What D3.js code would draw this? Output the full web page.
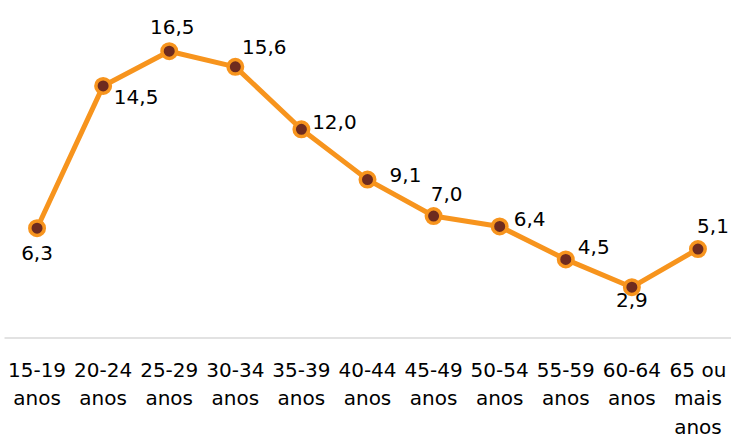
<!DOCTYPE html>
<html>
<head>
<meta charset="utf-8">
<script src="https://cdn.jsdelivr.net/npm/d3@7"></script>
<style>
  body { margin: 0; background: #fff; }
  svg { display: block; font-family: "DejaVu Sans", Verdana, sans-serif; }
</style>
</head>
<body>
<div id="chart"></div>
<script>
// age groups and values (%)
const categories = ["15-19 anos", "20-24 anos", "25-29 anos", "30-34 anos", "35-39 anos",
    "40-44 anos", "45-49 anos", "50-54 anos", "55-59 anos", "60-64 anos", "65 ou mais anos"];
const values = [6.3, 14.5, 16.5, 15.6, 12.0, 9.1, 7.0, 6.4, 4.5, 2.9, 5.1];
// where each data label sits relative to its point
const labelDx = [0, 33, 3, 29, 33, 38, 13, 30, 28, 0, 15];
const labelDy = [25, 11, -24, -20, -8, -5, -22, -8, -13, 13, -23];

const cfg = {
    width: 731,
    height: 437,
    lineColor: "#F7941D",
    dotColor: "#6E2B1F",
    axisColor: "#D9D9D9",
    fontSize: 20
};

const fmt = (v) => d3.format(".1f")(v).replace(".", ",");

const svg = d3.select("#chart")
    .append("svg")
    .attr("width", cfg.width)
    .attr("height", cfg.height);

const x = d3.scaleBand()
    .domain(categories)
    .range([4, 731])
    .padding(0);

const y = d3.scaleLinear()
    .domain([0, 20])
    .range([337.5, -9.5]);

const cx = (d) => x(d) + x.bandwidth() / 2;

// axis along the bottom
const axis = svg.append("g")
    .attr("transform", "translate(0," + y(0) + ")")
    .call(d3.axisBottom(x).tickSize(0).tickSizeOuter(0).tickPadding(33));

axis.select(".domain")
    .attr("stroke", cfg.axisColor)
    .attr("stroke-width", 1.5);

axis.selectAll(".tick text")
    .attr("font-size", cfg.fontSize)
    .attr("font-family", "DejaVu Sans, Verdana, sans-serif")
    .attr("fill", "#000")
    .call(wrap, 64);

function wrap(texts, width) {
    texts.each(function () {
        const text = d3.select(this);
        const words = text.text().split(/\s+/);
        const yy = text.attr("y");
        text.text(null);
        let line = [];
        let lineNo = 0;
        let tspan = text.append("tspan").attr("x", 0).attr("y", yy).attr("dy", "0.32em");
        words.forEach((w) => {
            line.push(w);
            tspan.text(line.join(" "));
            if (tspan.node().getComputedTextLength() > width && line.length > 1) {
                line.pop();
                tspan.text(line.join(" "));
                line = [w];
                lineNo++;
                tspan = text.append("tspan")
                    .attr("x", 0).attr("y", yy)
                    .attr("dy", (0.32 + lineNo * 1.42) + "em")
                    .text(w);
            }
        });
    });
}

const pts = categories.map((c, i) => ({ label: c, value: values[i], i: i }));

const line = d3.line()
    .x((d) => cx(d.label))
    .y((d) => y(d.value));

svg.append("path")
    .datum(pts)
    .attr("d", line)
    .attr("fill", "none")
    .attr("stroke", cfg.lineColor)
    .attr("stroke-width", 5)
    .attr("stroke-linejoin", "round");

svg.selectAll(".dot")
    .data(pts)
    .enter()
    .append("circle")
    .attr("class", "dot")
    .attr("cx", (d) => cx(d.label))
    .attr("cy", (d) => y(d.value))
    .attr("r", 7.25)
    .attr("fill", cfg.dotColor)
    .attr("stroke", cfg.lineColor)
    .attr("stroke-width", 3.5);

svg.selectAll(".lbl")
    .data(pts)
    .enter()
    .append("text")
    .attr("class", "lbl")
    .attr("x", (d) => cx(d.label) + labelDx[d.i])
    .attr("y", (d) => y(d.value) + labelDy[d.i])
    .attr("dy", "0.36em")
    .attr("text-anchor", "middle")
    .attr("font-size", cfg.fontSize)
    .attr("fill", "#000")
    .text((d) => fmt(d.value));
</script>
</body>
</html>
